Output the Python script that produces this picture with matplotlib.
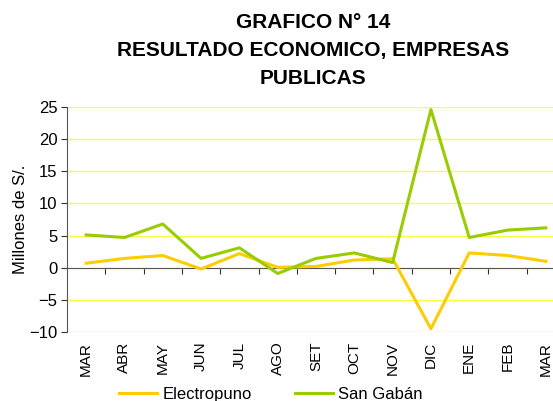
import matplotlib
matplotlib.use('Agg')
import matplotlib.pyplot as plt
import numpy as np

plt.rcParams['font.family'] = ['Liberation Sans', 'DejaVu Sans']

# ── Data (millones de S/.) ──────────────────────────────────────────
months      = ['MAR', 'ABR', 'MAY', 'JUN', 'JUL', 'AGO', 'SET', 'OCT', 'NOV',
               'DIC', 'ENE', 'FEB', 'MAR']
electropuno = [0.7, 1.45, 1.9, -0.2, 2.2, 0.05, 0.2, 1.2, 1.4, -9.5, 2.3, 1.9, 1.0]
san_gaban   = [5.1, 4.7, 6.8, 1.45, 3.1, -0.9, 1.45, 2.3, 0.8, 24.6, 4.7, 5.85, 6.2]
yticks      = [25, 20, 15, 10, 5, 0, -5, -10]

fig = plt.figure(figsize=(5.53, 4.01), dpi=100)
# plot area runs past the right edge like in the original capture
ax = fig.add_axes([67 / 553, 69 / 401, 498 / 553, 225 / 401])

x = np.arange(len(months))
ax.plot(x, electropuno, color='#FFCC00', lw=2.2, label='Electropuno', zorder=3)
ax.plot(x, san_gaban, color='#99CC00', lw=2.2, label='San Gabán', zorder=3)

ax.set_xlim(-0.5, len(months) - 0.5)
ax.set_ylim(-10, 25)
ax.set_yticks(yticks)
ax.yaxis.grid(True, color='#FFFF44', lw=1)
ax.set_axisbelow(True)
ax.tick_params(axis='y', labelsize=12, length=4, width=0.8, colors='#333333', pad=3)
ax.tick_params(axis='y', labelcolor='black')

for s in ['top', 'right']:
    ax.spines[s].set_visible(False)
ax.spines['left'].set_color('#555555')
ax.spines['bottom'].set_position(('data', 0))
ax.spines['bottom'].set_color('#555555')

# zero axis: ticks between categories, no labels
ax.set_xticks(np.arange(0.5, len(months) - 0.5))
ax.tick_params(axis='x', length=4, width=0.8, colors='#333333', labelbottom=False)

# month labels at the bottom of the plot area
sec = ax.secondary_xaxis('bottom')
sec.set_xticks(x)
sec.set_xticklabels(months, rotation=90, fontsize=11)
sec.tick_params(length=0, pad=7)
sec.spines['bottom'].set_visible(False)

ax.set_ylabel('Millones de S/.', fontsize=12, labelpad=1)

fig.text(0.566, 0.968, 'GRAFICO N° 14\nRESULTADO ECONOMICO, EMPRESAS\nPUBLICAS',
         ha='center', va='top', fontsize=15, fontweight='bold', linespacing=1.6)

fig.legend(loc='lower center', bbox_to_anchor=(0.49, -0.04), ncol=2, frameon=False,
           fontsize=12, handlelength=2.3, handletextpad=0.3, columnspacing=2.6)

fig.savefig('out.png', dpi=100)
